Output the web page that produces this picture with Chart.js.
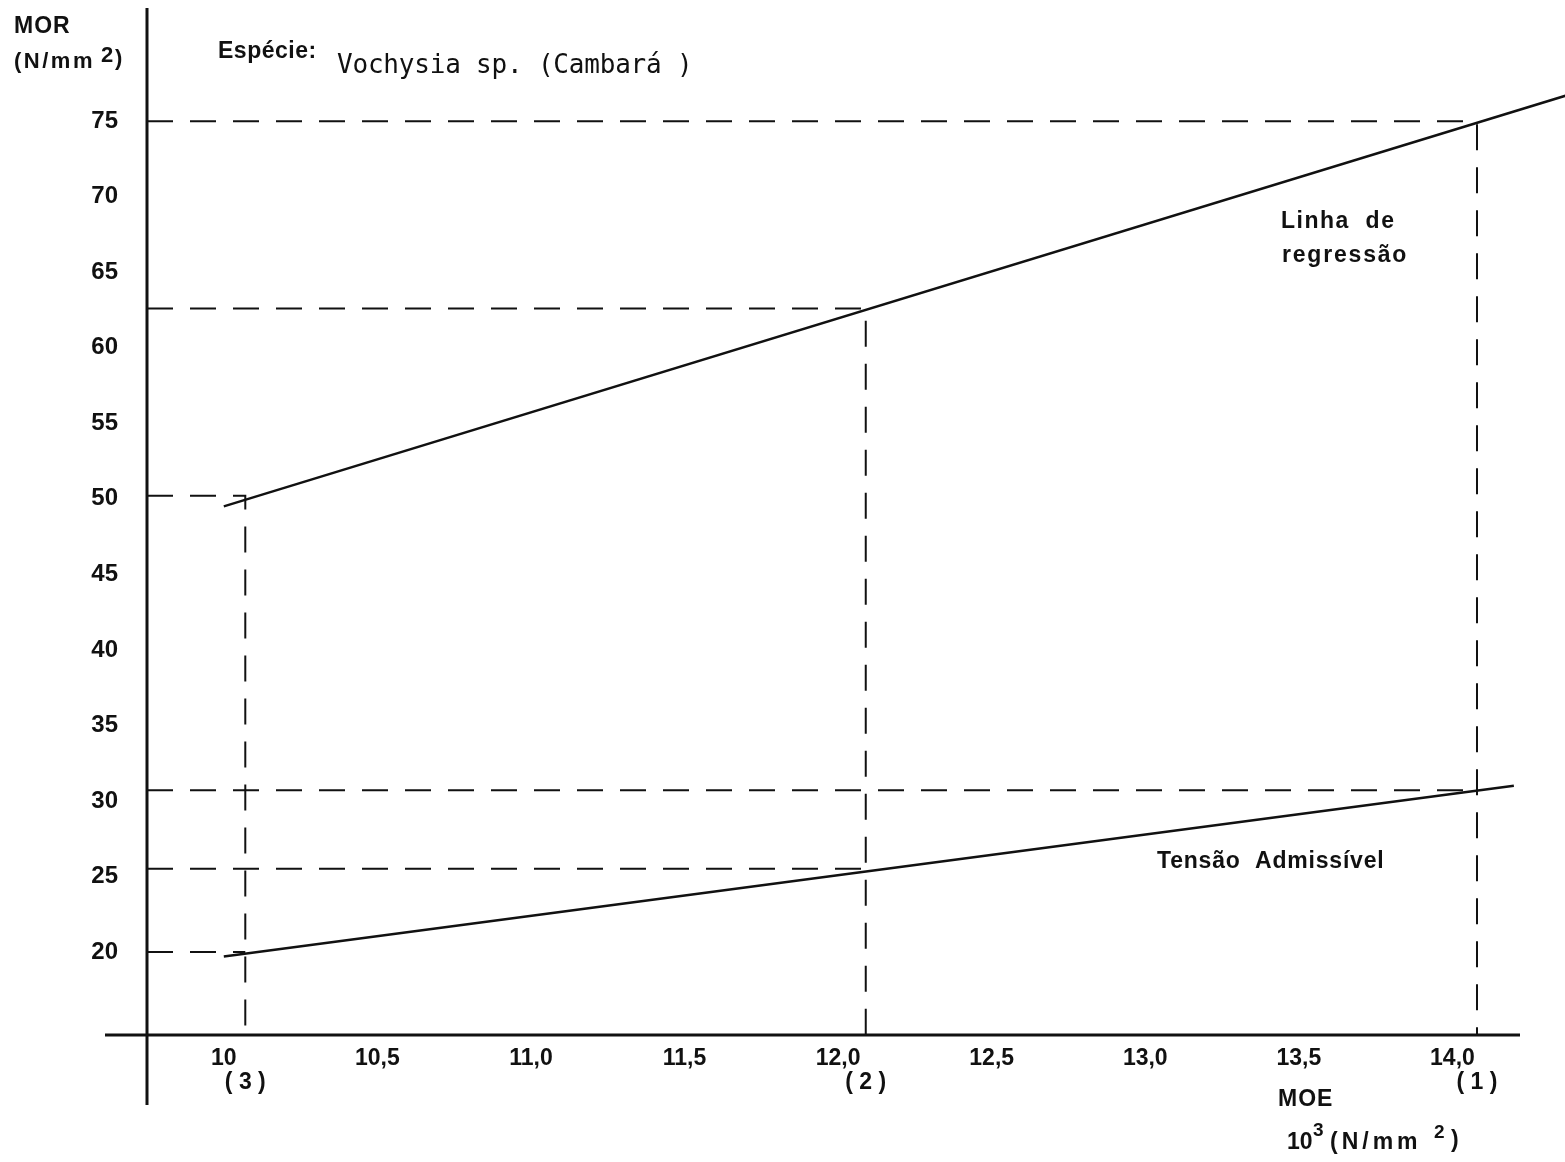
<!DOCTYPE html>
<html>
<head>
<meta charset="utf-8">
<script src="https://cdn.jsdelivr.net/npm/chart.js@4/dist/chart.umd.min.js"></script>
<style>
  html, body { margin: 0; padding: 0; background: #fff; }
  #wrap { width: 1565px; height: 1162px; position: relative; }
</style>
</head>
<body>
<div id="wrap"><canvas id="c" width="1565" height="1162"></canvas></div>
<script>
// ---- data ----
const xTicks = [10, 10.5, 11, 11.5, 12, 12.5, 13, 13.5, 14];
const xTickLabels = ["10", "10,5", "11,0", "11,5", "12,0", "12,5", "13,0", "13,5", "14,0"];
const yTicks = [20, 25, 30, 35, 40, 45, 50, 55, 60, 65, 70, 75];
const yTickLabels = ["20", "25", "30", "35", "40", "45", "50", "55", "60", "65", "70", "75"];

// regression line (MOR vs MOE)
const regressionX = [10.0, 14.37];
const regressionY = [49.5, 76.7];
// allowable stress line
const tensaoX = [10.0, 14.2];
const tensaoY = [19.7, 31.0];

// reference points (1),(2),(3)
const guideX = [10.07, 12.09, 14.08];
const guideUpperY = [50.2, 62.6, 75.0];
const guideLowerY = [20.0, 25.5, 30.7];
const guideNames = ["(3)", "(2)", "(1)"];

const xMin = 9.75, xMax = 14.22;
const yMin = 14.5, yMax = 82.5;

// ---- build datasets ----
const BLACK = "#111";
const datasets = [];
guideX.forEach((gx, i) => {
  datasets.push({
    data: [{x: xMin, y: guideUpperY[i]}, {x: gx, y: guideUpperY[i]}, {x: gx, y: yMin}],
    borderColor: BLACK, borderWidth: 2, borderDash: [26, 17], pointRadius: 0, clip: false, tension: 0
  });
  datasets.push({
    data: [{x: xMin, y: guideLowerY[i]}, {x: gx, y: guideLowerY[i]}],
    borderColor: BLACK, borderWidth: 2, borderDash: [26, 17], pointRadius: 0, clip: false, tension: 0
  });
});
datasets.push({
  data: regressionX.map((x, i) => ({x, y: regressionY[i]})),
  borderColor: BLACK, borderWidth: 2.5, pointRadius: 0, clip: false
});
datasets.push({
  data: tensaoX.map((x, i) => ({x, y: tensaoY[i]})),
  borderColor: BLACK, borderWidth: 2.5, pointRadius: 0, clip: false
});

function spaced(ctx, text, x, y, spacing, align) {
  ctx.save();
  ctx.letterSpacing = spacing + "px";
  ctx.textAlign = align || "left";
  ctx.fillText(text, x, y);
  ctx.restore();
}

const decor = {
  id: "decor",
  afterDraw(chart) {
    const ctx = chart.ctx;
    const xs = chart.scales.x, ys = chart.scales.y;
    const ax = xs.getPixelForValue(xMin);
    const ay = ys.getPixelForValue(yMin);
    ctx.save();
    ctx.strokeStyle = BLACK;
    ctx.fillStyle = BLACK;
    ctx.lineWidth = 3;
    // y axis (extends below x axis)
    ctx.beginPath(); ctx.moveTo(ax, ys.getPixelForValue(yMax)); ctx.lineTo(ax, ay + 70); ctx.stroke();
    // x axis (extends left of y axis)
    ctx.beginPath(); ctx.moveTo(ax - 42, ay); ctx.lineTo(xs.getPixelForValue(xMax), ay); ctx.stroke();

    ctx.textBaseline = "middle";
    // axis title MOR
    ctx.font = 'bold 23px "Liberation Sans"';
    spaced(ctx, "MOR", 14, 27, 1);
    ctx.font = 'bold 22px "Liberation Sans"';
    spaced(ctx, "(N/mm", 14, 62, 2.5);
    ctx.fillText("2", 101, 56);
    ctx.fillText(")", 115, 59);

    // species
    ctx.font = 'bold 23px "Liberation Sans"';
    spaced(ctx, "Espécie:", 218, 52, 0.5);
    ctx.font = '26px "DejaVu Sans Mono"';
    spaced(ctx, "Vochysia sp. (Cambará )", 337, 66, -0.2);

    // series labels
    ctx.font = 'bold 23px "Liberation Sans"';
    spaced(ctx, "Linha  de", 1281, 222, 1.5);
    spaced(ctx, "regressão", 1282, 256, 1.8);
    spaced(ctx, "Tensão  Admissível", 1157, 862, 0.8);

    // point numbers
    ctx.font = 'bold 23px "Liberation Sans"';
    guideX.forEach((gx, i) => {
      spaced(ctx, guideNames[i].split("").join(" "), xs.getPixelForValue(gx), 1083, 0, "center");
    });

    // x axis title
    ctx.font = 'bold 23px "Liberation Sans"';
    spaced(ctx, "MOE", 1278, 1100, 1);
    ctx.fillText("10", 1287, 1143);
    ctx.font = 'bold 19px "Liberation Sans"';
    ctx.fillText("3", 1313, 1131);
    ctx.font = 'bold 23px "Liberation Sans"';
    spaced(ctx, "(N/mm", 1330, 1143, 4);
    ctx.font = 'bold 19px "Liberation Sans"';
    ctx.fillText("2", 1434, 1133);
    ctx.font = 'bold 23px "Liberation Sans"';
    ctx.fillText(")", 1451, 1141);
    ctx.restore();
  }
};

new Chart(document.getElementById("c"), {
  type: "line",
  data: { datasets },
  options: {
    responsive: false,
    animation: false,
    events: [],
    layout: { autoPadding: false, padding: { top: 8, right: 45, left: 0, bottom: 0 } },
    plugins: { legend: { display: false }, tooltip: { enabled: false }, title: { display: false } },
    scales: {
      x: {
        type: "linear", min: xMin, max: xMax,
        grid: { display: false, drawTicks: false },
        border: { display: false },
        afterBuildTicks: (s) => { s.ticks = xTicks.map(v => ({value: v})); },
        afterFit: (s) => { s.height = 127; s.paddingLeft = 0; s.paddingRight = 0; },
        ticks: {
          padding: 10, color: BLACK, maxRotation: 0, autoSkip: false,
          font: { family: "Liberation Sans", size: 23, weight: "bold" },
          callback: (v) => { const i = xTicks.indexOf(v); return i >= 0 ? xTickLabels[i] : ""; }
        }
      },
      y: {
        type: "linear", min: yMin, max: yMax,
        grid: { display: false, drawTicks: false },
        border: { display: false },
        afterBuildTicks: (s) => { s.ticks = yTicks.map(v => ({value: v})); },
        afterFit: (s) => { s.width = 147; s.paddingTop = 0; s.paddingBottom = 0; },
        ticks: {
          padding: 29, color: BLACK, autoSkip: false,
          font: { family: "Liberation Sans", size: 24, weight: "bold" },
          callback: (v) => { const i = yTicks.indexOf(v); return i >= 0 ? yTickLabels[i] : ""; }
        }
      }
    }
  },
  plugins: [decor]
});
</script>
</body>
</html>
